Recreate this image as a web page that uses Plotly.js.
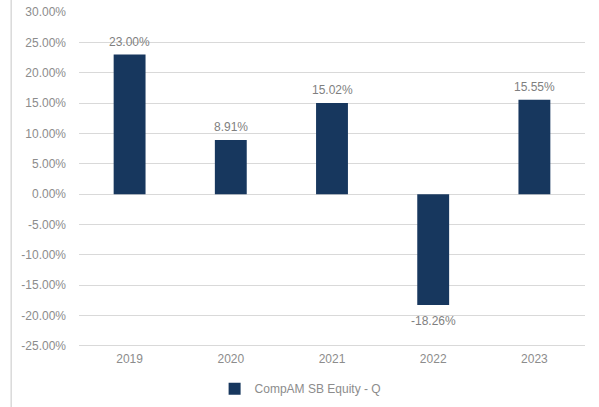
<!DOCTYPE html>
<html>
<head>
<meta charset="utf-8">
<script src="https://cdn.plot.ly/plotly-3.0.1.min.js"></script>
<style>html,body{margin:0;padding:0;background:#fff;}#chart{width:599px;height:407px;}</style>
</head>
<body>
<div id="chart"></div>
<script>
var years = ['2019', '2020', '2021', '2022', '2023'];
var returns = [0.2300, 0.0891, 0.1502, -0.1826, 0.1555];
var seriesName = 'CompAM SB Equity - Q';
var yTicks = [0.30, 0.25, 0.20, 0.15, 0.10, 0.05, 0, -0.05, -0.10, -0.15, -0.20, -0.25];
var yTickText = ['30.00%', '25.00%', '20.00%', '15.00%', '10.00%', '5.00%', '0.00%',
                 '-5.00%', '-10.00%', '-15.00%', '-20.00%', '-25.00%'];

var font = 'Liberation Sans, Arial, sans-serif';
var trace = {
  type: 'bar',
  x: years,
  y: returns,
  name: seriesName,
  marker: {color: '#17375e'},
  width: 0.315,
  showlegend: true,
  hoverinfo: 'skip'
};
var annotations = years.map(function(yr, i){
  var v = returns[i];
  return {
    x: i, y: v, xref: 'x', yref: 'y',
    text: (v*100).toFixed(2) + '%',
    showarrow: false,
    yanchor: v >= 0 ? 'bottom' : 'top',
    yshift: v >= 0 ? 4 : -7,
    font: {family: font, size: 12, color: '#7f7f7f'}
  };
});
var layout = {
  width: 599, height: 407,
  margin: {l: 79, r: 14, t: 12, b: 61, autoexpand: false},
  paper_bgcolor: '#fff', plot_bgcolor: '#fff',
  font: {family: font, size: 12, color: '#8c8c8c'},
  xaxis: {
    type: 'category', range: [-0.5, 4.5], showgrid: false, showline: false, zeroline: false,
    ticks: '', tickfont: {family: font, size: 12, color: '#8c8c8c'}, automargin: false,
    ticklabelstandoff: 4
  },
  yaxis: {
    range: [-0.25, 0.30], tickvals: yTicks, ticktext: yTickText,
    showgrid: true, gridcolor: '#d9d9d9', gridwidth: 1,
    zeroline: false, showline: false, ticks: '', automargin: false,
    tickfont: {family: font, size: 12, color: '#8c8c8c'}, ticklabelstandoff: 12
  },
  annotations: annotations,
  shapes: [
    {type: 'line', xref: 'paper', yref: 'y', x0: 0, x1: 1, y0: -0.25, y1: -0.25,
     line: {color: '#d9d9d9', width: 2}},
    {type: 'line', xref: 'paper', yref: 'paper', x0: -0.134, x1: -0.134, y0: -1, y1: 2,
     line: {color: '#d9d9d9', width: 1.5}}
  ],
  legend: {
    orientation: 'h', x: 0.268, xanchor: 'left', y: -0.128, yanchor: 'middle',
    font: {family: font, size: 12, color: '#8c8c8c'}, itemwidth: 30
  },
  bargap: 0.6
};
Plotly.newPlot('chart', [trace], layout, {displayModeBar: false, staticPlot: true});
</script>
</body>
</html>
